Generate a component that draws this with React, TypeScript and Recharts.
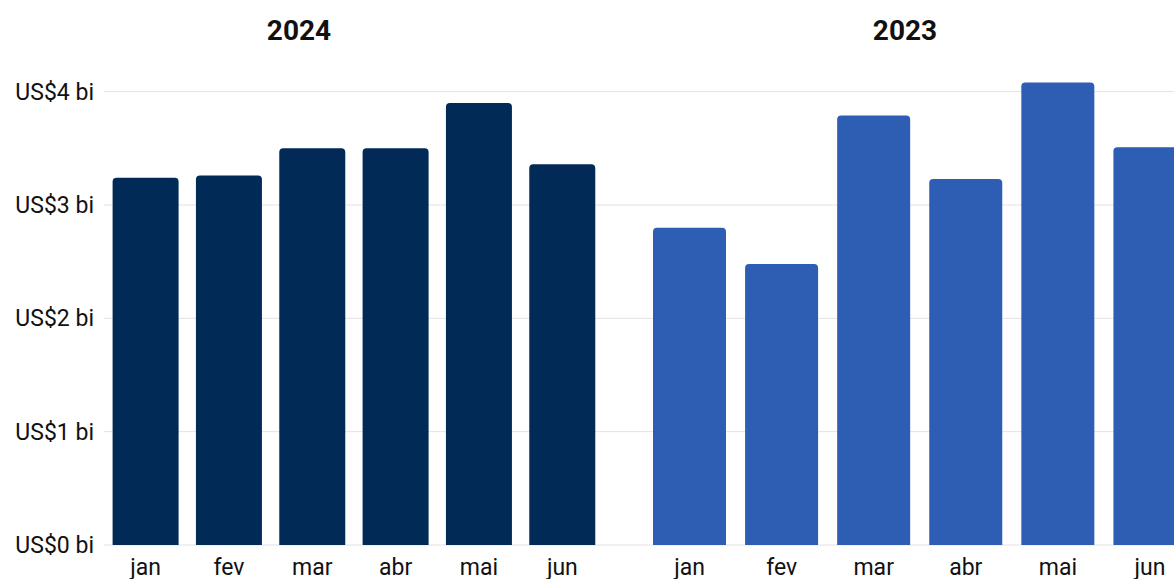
import { BarChart, Bar, XAxis, YAxis, CartesianGrid } from "recharts";

const months = ["jan", "fev", "mar", "abr", "mai", "jun"];
const values2024 = [3.24, 3.26, 3.5, 3.5, 3.9, 3.36];
const values2023 = [2.8, 2.48, 3.79, 3.23, 4.08, 3.51];
const yTicks = [0, 1, 2, 3, 4];
const yMax = 4.2;

const data2024 = months.map((m, i) => ({ month: m, value: values2024[i] }));
const data2023 = months.map((m, i) => ({ month: m, value: values2023[i] }));

const FONT = "Roboto, 'Noto Sans', sans-serif";
const tickStyle = { fontSize: 23, fill: "#111", fontFamily: FONT };

const titleStyle = (center: number): React.CSSProperties => ({
  position: "absolute",
  top: 14,
  left: center - 100,
  width: 200,
  textAlign: "center",
  fontSize: 28,
  fontWeight: 700,
  fontFamily: FONT,
  color: "#111",
  lineHeight: "34px",
});

// grid only at the tick values (no line at the domain top)
const gridAtTicks = (props: any) => {
  const scale = props?.yAxis?.scale;
  if (typeof scale === "function") return yTicks.map((t) => scale(t));
  if (scale && typeof scale.map === "function") return yTicks.map((t) => scale.map(t));
  const { top, height } = props.offset;
  return yTicks.map((t) => top + height * (1 - t / yMax));
};

export default function App() {
  return (
    <div
      style={{
        position: "fixed",
        left: 0,
        top: 0,
        width: 1174,
        height: 579,
        overflow: "hidden",
        background: "#fff",
      }}
    >
      <div style={titleStyle(299)}>2024</div>
      <div style={titleStyle(905)}>2023</div>

      <div style={{ position: "absolute", left: 0, top: 0 }}>
        <BarChart
          width={604}
          height={579}
          data={data2024}
          margin={{ top: 69, right: 0, left: 0, bottom: 0 }}
          barCategoryGap={8.6}
        >
          <CartesianGrid
            vertical={false}
            stroke="#e2e2e2"
            horizontalCoordinatesGenerator={gridAtTicks}
          />
          <XAxis
            dataKey="month"
            height={34}
            axisLine={false}
            tickLine={false}
            tick={tickStyle}
            tickMargin={8}
          />
          <YAxis
            width={104}
            domain={[0, yMax]}
            ticks={yTicks}
            axisLine={false}
            tickLine={false}
            tick={tickStyle}
            tickMargin={4}
            tickFormatter={(v) => `US$${v} bi`}
          />
          <Bar dataKey="value" fill="#012a56" radius={[4, 4, 0, 0]} isAnimationActive={false} />
        </BarChart>
      </div>

      <div style={{ position: "absolute", left: 604, top: 0 }}>
        <BarChart
          width={592}
          height={579}
          data={data2023}
          margin={{ top: 69, right: 0, left: 0, bottom: 0 }}
          barCategoryGap={9.5}
        >
          <CartesianGrid
            vertical={false}
            stroke="#e2e2e2"
            horizontalCoordinatesGenerator={gridAtTicks}
          />
          <XAxis
            dataKey="month"
            height={34}
            axisLine={false}
            tickLine={false}
            tick={tickStyle}
            tickMargin={8}
            padding={{ left: 39.5, right: 0 }}
          />
          <YAxis hide domain={[0, yMax]} ticks={yTicks} />
          <Bar dataKey="value" fill="#2d5eb3" radius={[4, 4, 0, 0]} isAnimationActive={false} />
        </BarChart>
      </div>
    </div>
  );
}
